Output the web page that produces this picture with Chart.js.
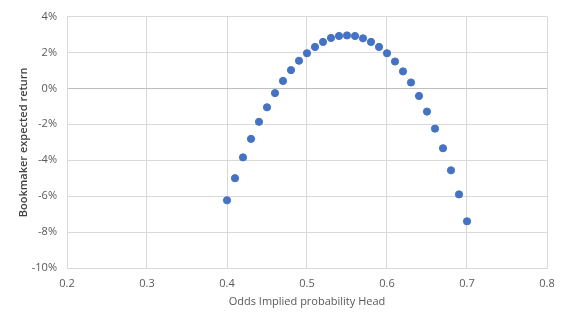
<!DOCTYPE html>
<html>
<head>
<meta charset="utf-8">
<script src="https://cdn.jsdelivr.net/npm/chart.js@4/dist/chart.umd.min.js"></script>
<style>
html,body{margin:0;padding:0;background:#fff;}
#wrap{width:567px;height:323px;position:relative;}
</style>
</head>
<body>
<div id="wrap"><canvas id="c" width="567" height="323"></canvas></div>
<script>
const impliedProb = [0.40,0.41,0.42,0.43,0.44,0.45,0.46,0.47,0.48,0.49,0.50,0.51,0.52,0.53,0.54,0.55,0.56,0.57,0.58,0.59,0.60,0.61,0.62,0.63,0.64,0.65,0.66,0.67,0.68,0.69,0.70];
const expectedReturn = [-6.23,-5.00,-3.84,-2.81,-1.86,-1.05,-0.26,0.42,1.02,1.54,1.96,2.31,2.59,2.81,2.92,2.95,2.92,2.79,2.59,2.31,1.96,1.50,0.95,0.33,-0.42,-1.29,-2.24,-3.33,-4.56,-5.90,-7.40];
const xTicks = [0.2,0.3,0.4,0.5,0.6,0.7,0.8];
const yTicks = [-10,-8,-6,-4,-2,0,2,4];
const xTitle = 'Odds Implied probability Head';
const yTitle = 'Bookmaker expected return';

const points = impliedProb.map((x,i)=>({x:x,y:expectedReturn[i]}));
const fontFam = '"Open Sans", Lato, sans-serif';

new Chart(document.getElementById('c'), {
  type: 'scatter',
  data: { datasets: [{ data: points, backgroundColor:'#4472C4', borderColor:'#4472C4', pointRadius:3.6, pointHoverRadius:3.6 }] },
  options: {
    responsive:false, animation:false, devicePixelRatio:1,
    plugins:{ legend:{display:false}, tooltip:{enabled:false} },
    layout:{ padding:{ left:0, right:20, top:14, bottom:0 } },
    scales:{
      x:{
        type:'linear', min:xTicks[0], max:xTicks[xTicks.length-1],
        afterBuildTicks: s => { s.ticks = xTicks.map(v=>({value:v})); },
        afterFit: s => { s.height = 55; },
        grid:{ color:'#d9d9d9', lineWidth:1, drawTicks:false },
        border:{ color:'#d9d9d9' },
        ticks:{ color:'#595959', font:{family:fontFam,size:11}, padding:9, callback:v=>v.toFixed(1), maxRotation:0 },
        title:{ display:true, text:xTitle, color:'#595959', font:{family:fontFam,size:11}, padding:{top:4,bottom:15} }
      },
      y:{
        type:'linear', min:yTicks[0], max:yTicks[yTicks.length-1],
        afterBuildTicks: s => { s.ticks = yTicks.map(v=>({value:v})); },
        afterFit: s => { s.width = 67; },
        grid:{ color: c => c.tick && c.tick.value===0 ? '#bfbfbf' : '#d9d9d9', lineWidth:1, drawTicks:false },
        border:{ color:'#d9d9d9' },
        ticks:{ color:'#595959', font:{family:fontFam,size:11}, padding:10, callback:v=>v+'%' },
        title:{ display:true, text:yTitle, color:'#404040', font:{family:fontFam,size:11,weight:'600'}, padding:{top:17,bottom:0} }
      }
    }
  }
});
</script>
</body>
</html>
